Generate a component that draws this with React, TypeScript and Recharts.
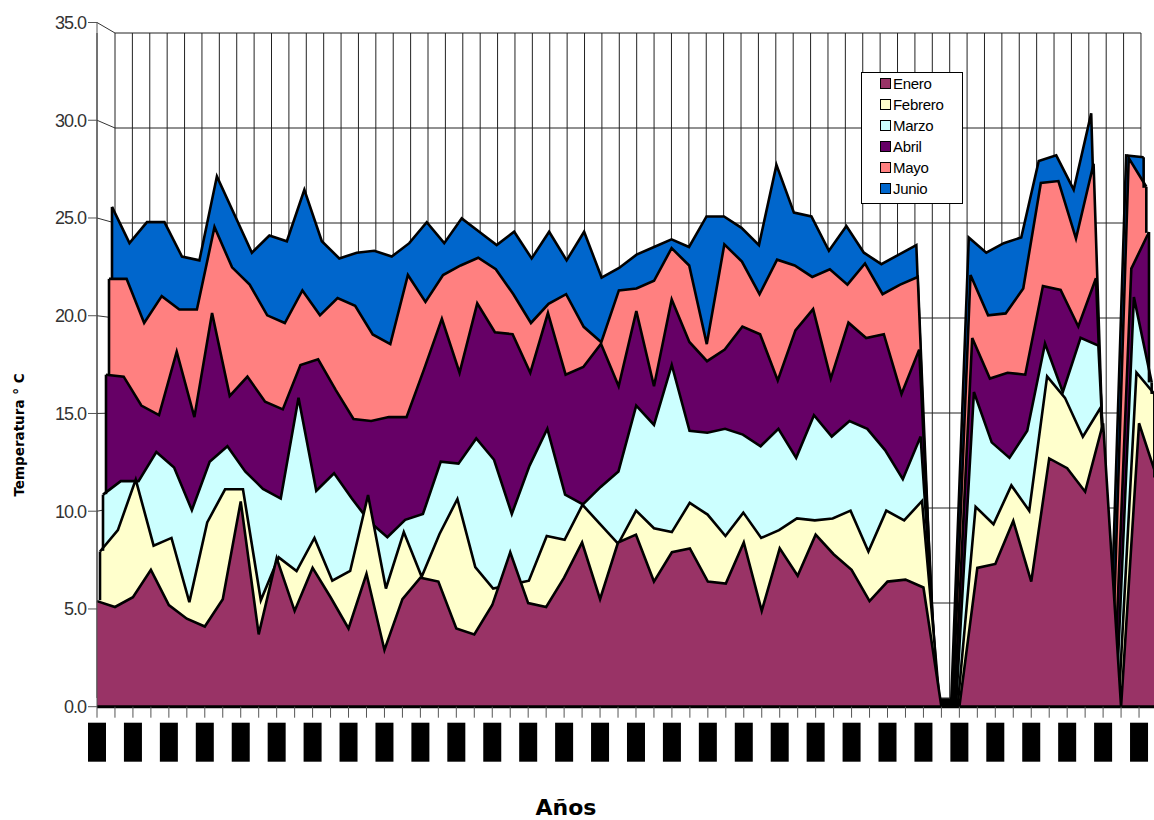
import { Area, AreaChart, CartesianGrid, ReferenceLine, XAxis, YAxis } from 'recharts';

const anios = [
  '1941', '1942', '1943', '1944', '1945', '1946', '1947', '1948', '1949', '1950',
  '1951', '1952', '1953', '1954', '1955', '1956', '1957', '1958', '1959', '1960',
  '1961', '1962', '1963', '1964', '1965', '1966', '1967', '1968', '1969', '1970',
  '1971', '1972', '1973', '1974', '1975', '1976', '1977', '1978', '1979', '1980',
  '1981', '1982', '1983', '1984', '1985', '1986', '1987', '1988', '1989', '1990',
  '1991', '1992', '1993', '1994', '1995', '1996', '1997', '1998', '1999', '2000'
];

const enero = [
  5.4, 5.1, 5.6, 7.0, 5.2, 4.5, 4.1, 5.5, 10.5, 3.7,
  7.6, 4.9, 7.1, 5.6, 4.0, 6.8, 2.9, 5.5, 6.6, 6.4,
  4.0, 3.7, 5.2, 7.9, 5.3, 5.1, 6.6, 8.4, 5.5, 8.4,
  8.8, 6.4, 7.9, 8.1, 6.4, 6.3, 8.4, 4.9, 8.1, 6.7,
  8.8, 7.8, 7.0, 5.4, 6.4, 6.5, 6.1, 0, 0, 7.1,
  7.3, 9.5, 6.4, 12.7, 12.2, 11.0, 14.5, 0, 14.5, 11.7
];
const febrero = [
  7.9, 9.0, 11.6, 8.2, 8.6, 5.3, 9.4, 11.1, 11.1, 5.4,
  7.6, 6.9, 8.6, 6.4, 6.9, 10.8, 6.0, 8.9, 6.6, 8.8,
  10.6, 7.1, 6.0, 6.2, 6.4, 8.7, 8.5, 10.3, 9.3, 8.3,
  10.0, 9.1, 8.9, 10.4, 9.8, 8.7, 9.9, 8.6, 9.0, 9.6,
  9.5, 9.6, 10.0, 7.9, 10.0, 9.5, 10.5, 0, 0, 10.2,
  9.3, 11.3, 10.0, 16.9, 15.8, 13.8, 15.3, 0, 17.1, 16.0
];
const marzo = [
  10.8, 11.5, 11.5, 13.0, 12.2, 10.0, 12.5, 13.3, 12.0, 11.1,
  10.6, 15.8, 11.0, 11.9, 10.6, 9.4, 8.6, 9.5, 9.8, 12.5,
  12.4, 13.7, 12.6, 9.8, 12.3, 14.2, 10.8, 10.3, 11.2, 12.0,
  15.4, 14.4, 17.5, 14.1, 14.0, 14.2, 13.9, 13.3, 14.2, 12.7,
  14.9, 13.8, 14.6, 14.2, 13.1, 11.6, 13.8, 0, 0, 16.1,
  13.5, 12.7, 14.1, 18.6, 16.1, 18.9, 18.5, 0, 21.0, 16.6
];
const abril = [
  17.0, 16.9, 15.4, 14.9, 18.2, 14.8, 20.2, 15.9, 16.9, 15.6,
  15.2, 17.5, 17.8, 16.2, 14.7, 14.6, 14.8, 14.8, 17.3, 19.9,
  17.1, 20.7, 19.2, 19.1, 17.1, 20.2, 17.0, 17.4, 18.6, 16.4,
  20.3, 16.4, 20.9, 18.7, 17.7, 18.3, 19.5, 19.1, 16.7, 19.3,
  20.4, 16.8, 19.7, 18.9, 19.1, 16.0, 18.3, 0, 0, 18.9,
  16.8, 17.1, 17.0, 21.6, 21.4, 19.5, 22.0, 0, 22.5, 24.4
];
const mayo = [
  22.0, 22.0, 19.7, 21.1, 20.4, 20.4, 24.7, 22.6, 21.7, 20.1,
  19.7, 21.4, 20.1, 21.0, 20.6, 19.1, 18.6, 22.2, 20.8, 22.2,
  22.7, 23.1, 22.5, 21.2, 19.7, 20.7, 21.2, 19.5, 18.7, 21.4,
  21.5, 21.9, 23.6, 22.7, 18.6, 23.8, 22.9, 21.2, 23.0, 22.7,
  22.1, 22.5, 21.7, 22.8, 21.2, 21.7, 22.1, 0, 0, 22.2,
  20.1, 20.2, 21.5, 27.0, 27.1, 24.1, 28.0, 0, 28.3, 26.8
];
const junio = [
  25.8, 23.9, 25.0, 25.0, 23.2, 23.0, 27.4, 25.4, 23.4, 24.3,
  24.0, 26.7, 24.0, 23.1, 23.4, 23.5, 23.2, 23.9, 25.0, 23.9,
  25.2, 24.5, 23.8, 24.5, 23.1, 24.5, 23.0, 24.5, 22.1, 22.6,
  23.3, 23.7, 24.1, 23.7, 25.3, 25.3, 24.7, 23.8, 28.0, 25.5,
  25.3, 23.5, 24.8, 23.4, 22.8, 23.3, 23.8, 0, 0, 24.2,
  23.4, 23.9, 24.2, 28.2, 28.5, 26.7, 30.7, 0, 28.5, 28.4
];

const yTicks = [0, 5, 10, 15, 20, 25, 30, 35];

// front to back: each series sits one step deeper in the 3D box
const series = [
  { key: 'enero', name: 'Enero', color: '#993366', values: enero },
  { key: 'febrero', name: 'Febrero', color: '#FFFFCC', values: febrero },
  { key: 'marzo', name: 'Marzo', color: '#CCFFFF', values: marzo },
  { key: 'abril', name: 'Abril', color: '#660066', values: abril },
  { key: 'mayo', name: 'Mayo', color: '#FF8080', values: mayo },
  { key: 'junio', name: 'Junio', color: '#0066CC', values: junio }
];

const data = anios.map((anio, i) => {
  const row: Record<string, string | number> = { anio };
  series.forEach((s) => {
    row[s.key] = s.values[i];
  });
  return row;
});

const FONT = '"Liberation Sans", Arial, sans-serif';
const TITLE_FONT = '"DejaVu Sans", Verdana, sans-serif';
const WALL = 6;
const PLOT = { left: 97, top: 22.5, right: 1157, bottom: 706.7 };
const CHART_W = 1170;
const CHART_H = 820;
const X_AXIS_H = 60;
const Y_MAX = 35;
const LINE_W = 2.6;

// perspective shift per depth step (px)
const step = { left: 3, right: 2.67, top: 1.75, bottom: 1.45 };
const depths = [0, 1, 2, 3, 4, 5, 6];

const wallLeft = PLOT.left + step.left * WALL;
const wallRight = PLOT.right - step.right * WALL;
const wallTop = PLOT.top + step.top * WALL;
const wallBottom = PLOT.bottom - step.bottom * WALL;
const frontY = (v: number) => PLOT.bottom - ((PLOT.bottom - PLOT.top) * v) / Y_MAX;
const wallY = (v: number) => wallBottom - ((wallBottom - wallTop) * v) / Y_MAX;

function YearTick(props: any) {
  const { x, y, payload, index } = props;
  if (index % 2 !== 0) return <g />;
  const cy = y + 22;
  return (
    <g>
      <rect x={x - 9} y={y + 3} width={18} height={39} fill="#000" />
      <text
        x={x}
        y={cy}
        fill="#000"
        fontSize={11}
        fontFamily={FONT}
        textAnchor="middle"
        dominantBaseline="central"
        transform={`rotate(-90 ${x} ${cy})`}
      >
        {payload.value}
      </text>
    </g>
  );
}

export default function App() {
  const first = anios[0];
  const last = anios[anios.length - 1];

  return (
    <div
      style={{
        position: 'fixed',
        left: 0,
        top: 0,
        width: 1154,
        height: 820,
        overflow: 'hidden',
        background: '#fff',
        fontFamily: FONT
      }}
    >
      {/* short edges joining the front value axis to the back wall */}
      <svg width={1154} height={820} style={{ position: 'absolute', left: 0, top: 0 }}>
        {yTicks.map((v) => (
          <line key={v} x1={PLOT.left} y1={frontY(v)} x2={wallLeft} y2={wallY(v)} stroke="#333" strokeWidth={1} />
        ))}
      </svg>

      <AreaChart
        width={CHART_W}
        height={CHART_H}
        data={data}
        margin={{
          top: PLOT.top,
          right: CHART_W - PLOT.right,
          bottom: CHART_H - PLOT.bottom - X_AXIS_H,
          left: PLOT.left - 60
        }}
      >
        {depths.map((d) => (
          <XAxis
            key={`x${d}`}
            xAxisId={`x${d}`}
            dataKey="anio"
            hide={d !== 0}
            interval={0}
            padding={{ left: step.left * d, right: step.right * d }}
            height={X_AXIS_H}
            tickSize={11}
            tickMargin={2}
            tickLine={{ stroke: '#555', strokeWidth: 1 }}
            axisLine={{ stroke: '#000', strokeWidth: 3 }}
            tick={(p: any) => <YearTick {...p} />}
          />
        ))}
        {depths.map((d) => (
          <YAxis
            key={`y${d}`}
            yAxisId={`y${d}`}
            hide={d !== 0}
            domain={[0, Y_MAX]}
            ticks={yTicks}
            padding={{ top: step.top * d, bottom: step.bottom * d }}
            width={60}
            tickSize={9}
            tickLine={{ stroke: '#555' }}
            axisLine={{ stroke: '#555' }}
            tickFormatter={(v: number) => v.toFixed(1)}
            tick={{ fill: '#333', fontSize: 18, fontFamily: FONT, letterSpacing: -1 }}
          />
        ))}
        <CartesianGrid
          xAxisId={`x${WALL}`}
          yAxisId={`y${WALL}`}
          x={wallLeft}
          y={wallTop}
          width={wallRight - wallLeft}
          height={wallBottom - wallTop}
          horizontalPoints={yTicks.map(wallY)}
          stroke="#222"
          strokeWidth={1}
          fill="none"
        />
        {[...series].reverse().map((s) => {
          const d = series.indexOf(s);
          return (
            <Area
              key={s.key}
              xAxisId={`x${d}`}
              yAxisId={`y${d}`}
              dataKey={s.key}
              name={s.name}
              type="linear"
              stroke="#000"
              strokeWidth={LINE_W}
              fill={s.color}
              fillOpacity={1}
              dot={false}
              activeDot={false}
              isAnimationActive={false}
            />
          );
        })}
        {/* outline the visible side edges of the deeper series */}
        {series.slice(1).map((s, i) => {
          const d = i + 1;
          const front = series[i].values;
          return [
            <ReferenceLine
              key={`${s.key}-l`}
              xAxisId={`x${d}`}
              yAxisId={`y${d}`}
              segment={[
                { x: first, y: Math.min(front[0], s.values[0]) },
                { x: first, y: s.values[0] }
              ]}
              stroke="#000"
              strokeWidth={LINE_W}
              ifOverflow="visible"
            />,
            <ReferenceLine
              key={`${s.key}-r`}
              xAxisId={`x${d}`}
              yAxisId={`y${d}`}
              segment={[
                { x: last, y: Math.min(front[front.length - 1], s.values[s.values.length - 1]) },
                { x: last, y: s.values[s.values.length - 1] }
              ]}
              stroke="#000"
              strokeWidth={LINE_W}
              ifOverflow="visible"
            />
          ];
        })}
      </AreaChart>

      <div
        style={{
          position: 'absolute',
          left: 19,
          top: 435,
          transform: 'translate(-50%, -50%) rotate(-90deg)',
          fontFamily: TITLE_FONT,
          fontWeight: 'bold',
          fontSize: 13.5,
          whiteSpace: 'nowrap',
          color: '#000'
        }}
      >
        Temperatura ° C
      </div>
      <div
        style={{
          position: 'absolute',
          left: 566,
          top: 807,
          transform: 'translate(-50%, -50%)',
          fontFamily: TITLE_FONT,
          fontWeight: 'bold',
          fontSize: 22,
          whiteSpace: 'nowrap',
          color: '#000'
        }}
      >
        Años
      </div>

      <div
        style={{
          position: 'absolute',
          left: 861,
          top: 72,
          width: 102,
          height: 132,
          boxSizing: 'border-box',
          border: '1px solid #000',
          background: '#fff',
          padding: '0 0 0 18px'
        }}
      >
        {series.map((s) => (
          <div key={s.key} style={{ display: 'flex', alignItems: 'center', height: 21 }}>
            <span
              style={{
                display: 'inline-block',
                width: 11,
                height: 11,
                boxSizing: 'border-box',
                border: '1.5px solid #000',
                background: s.color,
                marginRight: 2
              }}
            />
            <span style={{ fontSize: 15, color: '#000', letterSpacing: -0.3 }}>{s.name}</span>
          </div>
        ))}
      </div>
    </div>
  );
}
